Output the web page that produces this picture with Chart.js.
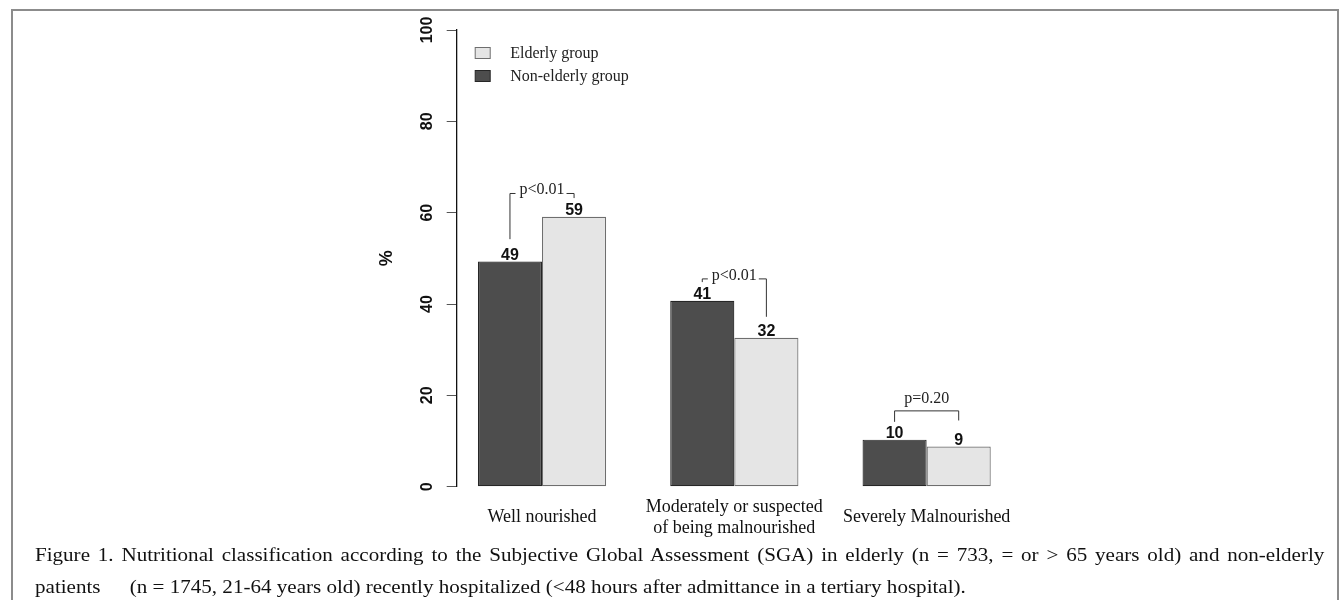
<!DOCTYPE html>
<html>
<head>
<meta charset="utf-8">
<script src="https://cdn.jsdelivr.net/npm/chart.js@4.4.1/dist/chart.umd.min.js"></script>
<style>
  html, body { margin: 0; background: #fff; overflow: hidden; width: 1339px; height: 600px; }
  #frame { position: absolute; left: 11px; top: 9px; width: 1328px; height: 620px; box-sizing: border-box; border: 2px solid #8c8c8c; border-bottom: none; }
  #chart { position: absolute; left: 0; top: 0; }
  .caption { position: absolute; left: 35px; width: 1102px; font-family: "Liberation Serif", "Times New Roman", serif; font-size: 18px; line-height: 32px; color: #111; white-space: nowrap; transform: scaleX(1.17); transform-origin: 0 0; }
  #cap1 { top: 539px; text-align: justify; text-align-last: justify; white-space: normal; }
  #cap2 { top: 571px; }
  #cap2 .lead { display: inline-block; width: 81px; }
</style>
</head>
<body>
<div id="frame"></div>
<canvas id="chart" width="1339" height="540"></canvas>
<div class="caption" id="cap1">Figure 1. Nutritional classification according to the Subjective Global Assessment (SGA) in elderly (n = 733, = or &gt; 65 years old) and non-elderly</div>
<div class="caption" id="cap2"><span class="lead">patients</span>(n = 1745, 21-64 years old) recently hospitalized (&lt;48 hours after admittance in a tertiary hospital).</div>
<script>
// data
const categories = ['Well nourished', ['Moderately or suspected', 'of being malnourished'], 'Severely Malnourished'];
const categoryPos = [1, 2, 3];
const nonElderly = [49.3, 40.7, 10.3];
const elderly = [59.1, 32.6, 8.8];
const nonElderlyLabels = ['49', '41', '10'];
const elderlyLabels = ['59', '32', '9'];
const yTicks = [0, 20, 40, 60, 80, 100];

// p-value brackets (in % units)
const pTexts = ['p<0.01', 'p<0.01', 'p=0.20'];
const pTop = [64.2, 45.5, 16.6];
const pLeftEnd = [54.2, 44.8, 14.2];
const pRightEnd = [63.2, 37.2, 14.5];
const pInline = [true, true, false];

const sansBold = { family: 'Liberation Sans', size: 16, weight: 'bold' };
const serif = '"Liberation Serif", "Times New Roman", serif';

// numbers on top of bars
const valueLabels = {
  id: 'valueLabels',
  afterDatasetsDraw(chart) {
    const ctx = chart.ctx;
    const sets = [nonElderlyLabels, elderlyLabels];
    ctx.save();
    ctx.font = 'bold 16px "Liberation Sans", Arial, sans-serif';
    ctx.fillStyle = '#111';
    ctx.textAlign = 'center';
    ctx.textBaseline = 'alphabetic';
    sets.forEach((labels, i) => {
      chart.getDatasetMeta(i).data.forEach((bar, j) => {
        ctx.fillText(labels[j], bar.x, bar.y - 2);
      });
    });
    ctx.restore();
  }
};

// significance brackets
const brackets = {
  id: 'brackets',
  afterDatasetsDraw(chart) {
    const ctx = chart.ctx;
    const y = chart.scales.y;
    const m0 = chart.getDatasetMeta(0).data;
    const m1 = chart.getDatasetMeta(1).data;
    ctx.save();
    ctx.strokeStyle = '#333';
    ctx.lineWidth = 1;
    ctx.font = '16px ' + serif;
    ctx.fillStyle = '#222';
    ctx.textAlign = 'center';
    pTexts.forEach((txt, j) => {
      const xl = m0[j].x, xr = m1[j].x;
      const yt = y.getPixelForValue(pTop[j]);
      const yl = y.getPixelForValue(pLeftEnd[j]);
      const yr = y.getPixelForValue(pRightEnd[j]);
      const xm = (xl + xr) / 2;
      const half = ctx.measureText(txt).width / 2;
      ctx.beginPath();
      ctx.moveTo(xl, yl);
      ctx.lineTo(xl, yt);
      if (pInline[j]) {
        ctx.lineTo(xm - half - 4, yt);
        ctx.moveTo(xm + half + 2, yt);
      }
      ctx.lineTo(xr, yt);
      ctx.lineTo(xr, yr);
      ctx.stroke();
      ctx.fillText(txt, xm, pInline[j] ? yt + 1 : yt - 8);
    });
    ctx.restore();
  }
};

// legend inside the plot, elderly first
const insideLegend = {
  id: 'insideLegend',
  afterDraw(chart) {
    const ctx = chart.ctx;
    const a = chart.chartArea;
    const order = [1, 0];
    ctx.save();
    ctx.font = '16px ' + serif;
    ctx.textBaseline = 'middle';
    order.forEach((di, k) => {
      const ds = chart.data.datasets[di];
      const cy = a.top + 23 + k * 23;
      ctx.fillStyle = ds.backgroundColor;
      ctx.strokeStyle = ds.borderColor;
      ctx.lineWidth = 1;
      ctx.fillRect(a.left + 18.5, cy - 5.5, 15, 11);
      ctx.strokeRect(a.left + 18.5, cy - 5.5, 15, 11);
      ctx.fillStyle = '#222';
      ctx.fillText(ds.label, a.left + 53.5, cy + 0.5);
    });
    ctx.restore();
  }
};

new Chart(document.getElementById('chart'), {
  type: 'bar',
  data: {
    datasets: [
      {
        label: 'Non-elderly group',
        data: categoryPos.map((x, i) => ({ x, y: nonElderly[i] })),
        backgroundColor: '#4d4d4d',
        borderColor: '#262626',
        borderWidth: 1.2,
        borderSkipped: false,
        categoryPercentage: 2 / 3,
        barPercentage: 1
      },
      {
        label: 'Elderly group',
        data: categoryPos.map((x, i) => ({ x, y: elderly[i] })),
        backgroundColor: '#e5e5e5',
        borderColor: '#6e6e6e',
        borderWidth: 1.2,
        borderSkipped: false,
        categoryPercentage: 2 / 3,
        barPercentage: 1
      }
    ]
  },
  options: {
    responsive: false,
    animation: false,
    devicePixelRatio: 1,
    layout: { padding: { top: 30, left: 0, right: 316.2, bottom: 0 } },
    plugins: { legend: { display: false }, tooltip: { enabled: false } },
    scales: {
      x: {
        type: 'linear',
        offset: false,
        min: 0.5564,
        max: 3.5,
        afterBuildTicks: s => { s.ticks = categoryPos.map(v => ({ value: v })); },
        afterFit: s => { s.height = 540 - 486.7; },
        grid: { display: false, drawTicks: false, offset: false },
        border: { display: false },
        ticks: {
          padding: 20.3,
          crossAlign: 'center',
          maxRotation: 0,
          autoSkip: false,
          color: '#111',
          font: { family: 'Liberation Serif', size: 18, lineHeight: 1.17 },
          callback: v => categories[categoryPos.indexOf(v)]
        }
      },
      y: {
        min: 0,
        max: 100,
        afterBuildTicks: s => { s.ticks = yTicks.map(v => ({ value: v })); },
        afterFit: s => { s.width = 456.7; },
        grid: { display: true, drawOnChartArea: false, drawTicks: true, tickLength: 10, color: '#555', lineWidth: 1 },
        border: { display: true, color: '#111', width: 1.3 },
        ticks: {
          minRotation: 90,
          maxRotation: 90,
          crossAlign: 'center',
          padding: 6,
          color: '#111',
          font: sansBold
        },
        title: {
          display: true,
          text: '%',
          color: '#111',
          font: { family: 'Liberation Sans', size: 18, weight: 'bold' },
          padding: { top: 376, bottom: 0 }
        }
      }
    }
  },
  plugins: [valueLabels, brackets, insideLegend]
});
</script>
</body>
</html>
